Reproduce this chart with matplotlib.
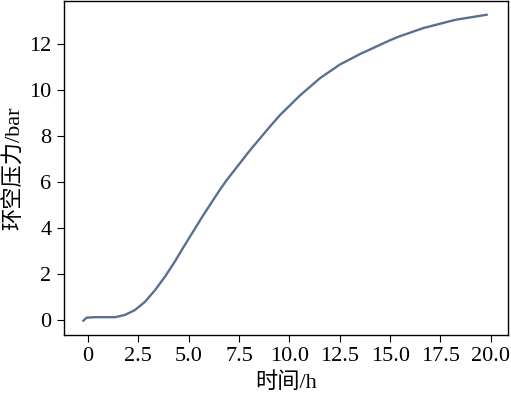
import matplotlib
matplotlib.use("Agg")
import matplotlib.pyplot as plt

time_h = [-0.23, -0.07, 0.35, 1.34, 1.84, 2.33, 2.83, 3.33, 3.82, 4.32, 4.73, 5.72,
          6.55, 6.88, 8.04, 9.03, 9.53, 10.52, 11.51, 12.51, 13.5, 14.49, 14.99,
          15.4, 16.64, 17.97, 18.3, 19.79]
pressure_bar = [-0.03, 0.1, 0.12, 0.12, 0.22, 0.43, 0.79, 1.3, 1.88, 2.55, 3.15, 4.55,
                5.66, 6.07, 7.37, 8.4, 8.9, 9.75, 10.5, 11.1, 11.55, 11.95, 12.15,
                12.3, 12.68, 12.98, 13.05, 13.26]
xticks = [0, 2.5, 5.0, 7.5, 10.0, 12.5, 15.0, 17.5, 20.0]
xtick_labels = ["0", "2.5", "5.0", "7.5", "10.0", "12.5", "15.0", "17.5", "20.0"]
yticks = [0, 2, 4, 6, 8, 10, 12]

plt.rcParams['font.family'] = ['Liberation Serif', 'Noto Sans CJK SC']

fig = plt.figure(figsize=(5.11, 3.94), dpi=100)
ax = fig.add_axes([0.125, 0.150, 0.869, 0.847])
ax.plot(time_h, pressure_bar, color="#5a7090", lw=1.7, solid_joinstyle="round")
ax.set_xlim(-1.2, 20.85)
ax.set_ylim(-0.65, 13.85)
ax.set_xticks(xticks)
ax.set_xticklabels(xtick_labels)
ax.set_yticks(yticks)
ax.tick_params(labelsize=16, direction="out", length=5, width=0.8, pad=4)
ax.set_xlabel("时间/h", fontsize=16, labelpad=4)
ax.set_ylabel("环空压力/bar", fontsize=16)
ax.yaxis.set_label_coords(-0.088, 0.5)
for s in ax.spines.values():
    s.set_linewidth(1.0)
fig.savefig("out.png", dpi=100)
